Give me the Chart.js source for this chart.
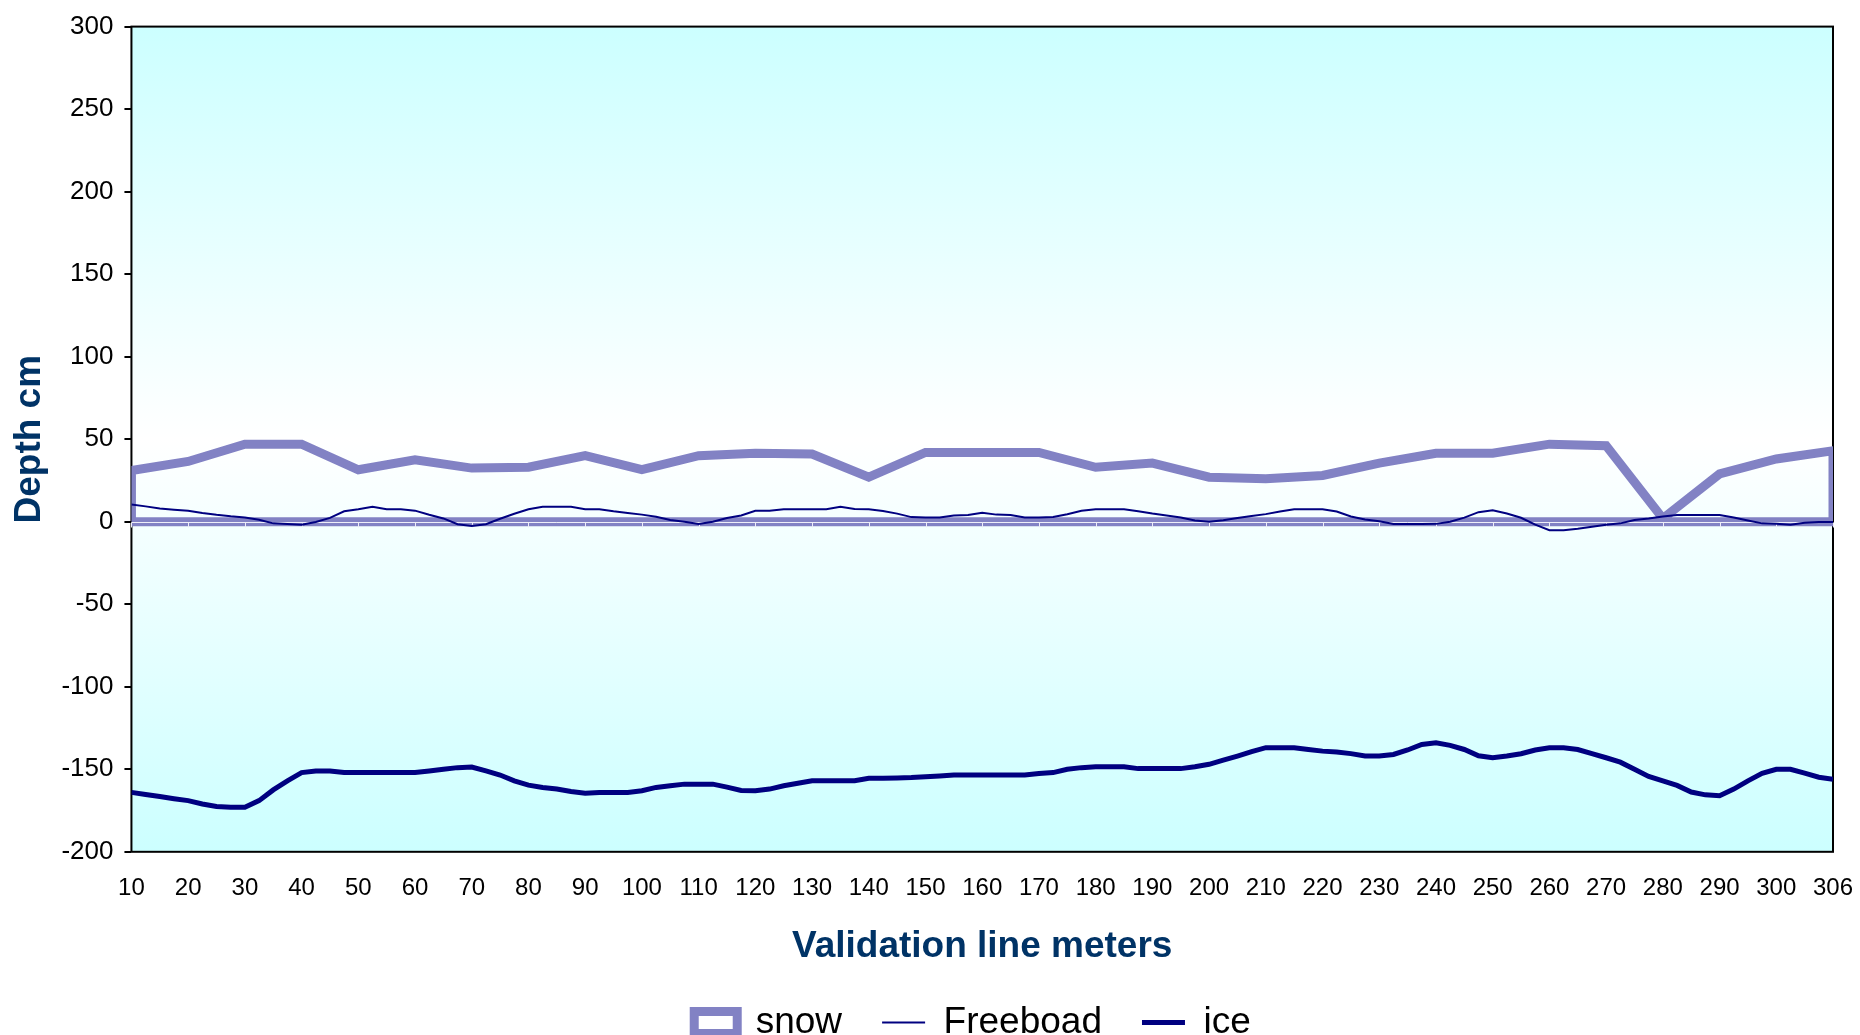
<!DOCTYPE html>
<html>
<head>
<meta charset="utf-8">
<title>Depth along validation line</title>
<script src="https://cdn.jsdelivr.net/npm/chart.js@4.4.1/dist/chart.umd.min.js"></script>
<style>
  html, body { margin: 0; padding: 0; background: #fff; }
  #wrap { width: 1860px; height: 1035px; position: relative; }
</style>
</head>
<body>
<div id="wrap"><canvas id="depthChart"></canvas></div>
<script>
// x axis labels (validation line meters), one per tick
const xTickLabels = ['10', '20', '30', '40', '50', '60', '70', '80', '90', '100',
  '110', '120', '130', '140', '150', '160', '170', '180', '190', '200',
  '210', '220', '230', '240', '250', '260', '270', '280', '290', '300', '306'];

// snow depth (cm) at each labelled tick
const snowDepth = [31, 36.5, 47, 47, 31.5, 37.5, 32.5, 33, 40, 31.5,
  40, 41.5, 41, 27, 42, 42, 42, 33, 35.5, 27,
  26, 28, 35.5, 41.5, 41.5, 47, 46, 2, 29, 38, 43];

// freeboard and ice are sampled four times per tick interval
const samplesPerTick = 4;

const freeboard = [
  10.5, 9.3, 8.0, 7.3,   6.7, 5.3, 4.2, 3.3,   2.6, 1.2, -1.0, -1.4,
  -1.8, -0.2, 2.3, 6.3,  7.5, 9.0, 7.5, 7.5,   6.7, 4.2, 2.0, -1.5,
  -2.6, -1.5, 1.8, 4.8,  7.5, 9.1, 9.1, 9.1,   7.6, 7.5, 6.3, 5.3,
  4.3, 3.0, 1.0, 0,      -1.3, 0, 2.2, 3.8,    6.6, 6.7, 7.5, 7.5,
  7.5, 7.5, 9.0, 7.7,    7.5, 6.5, 4.9, 2.8,   2.6, 2.6, 3.8, 4.1,
  5.5, 4.3, 4.0, 2.6,    2.6, 2.8, 4.5, 6.7,   7.5, 7.5, 7.5, 6.4,
  5.0, 3.8, 2.6, 0.7,    0, 0.9, 2.2, 3.5,     4.6, 6.2, 7.5, 7.5,
  7.5, 6.2, 3.2, 1.4,    0.3, -1.4, -1.4, -1.4, -1.3, 0, 2.5, 5.8,
  7.0, 5.0, 2.4, -1.8,   -5.1, -5.1, -4.2, -3.0, -1.8, -1.0, 1.0, 2.0,
  3.2, 4.1, 4.1, 4.1,    4.1, 2.6, 0.8, -1.0,  -1.3, -1.8, -0.6, -0.2,
  -0.2
];

const iceDepth = [
  -164, -165.3, -166.5, -167.8,  -169, -171, -172.5, -173,     -173, -169, -162.5, -157,
  -152, -151, -151, -152,        -152, -152, -152, -152,       -152, -151, -150, -149,
  -148.6, -151, -153.5, -157,    -159.6, -161, -162, -163.5,   -164.5, -164, -164, -164,
  -163, -161, -160, -159,        -159, -159, -160.8, -162.8,   -163, -162, -160, -158.5,
  -157, -157, -157, -157,        -155.5, -155.5, -155.3, -155, -154.5, -154, -153.5, -153.5,
  -153.5, -153.5, -153.5, -153.5, -152.5, -152, -150, -149,    -148.5, -148.5, -148.5, -149.6,
  -149.6, -149.6, -149.6, -148.5, -147, -144.5, -142, -139.3,  -136.9, -136.9, -136.9, -138,
  -139, -139.5, -140.5, -142,    -142, -141, -138.3, -135,     -134, -135.5, -138, -141.8,
  -143, -142, -140.6, -138.3,    -137, -137, -138, -140.5,     -143, -145.7, -150, -154.3,
  -157, -159.8, -163.8, -165.5,  -166, -162, -157, -152.5,     -150, -150, -152.3, -154.8,
  -156
];

const yTicks = { min: -200, max: 300, step: 50 };

const snowColor = '#8282c4';
const navy = '#000080';
const titleColor = '#003366';

Chart.defaults.font.family = '"Liberation Sans", Arial, sans-serif';
Chart.defaults.color = '#000';

// snow is drawn as a closed outline down to the zero line, like the area series
const lastTick = xTickLabels.length - 1;
const snowPoints = [{ x: 0, y: 0 }]
  .concat(snowDepth.map((v, i) => ({ x: i, y: v })))
  .concat([{ x: lastTick, y: 0 }, { x: 0, y: 0 }]);
const freeboardPoints = freeboard.map((v, i) => ({ x: i / samplesPerTick, y: v }));
const icePoints = iceDepth.map((v, i) => ({ x: i / samplesPerTick, y: v }));

// gradient plot background + black frame
const plotFrame = {
  id: 'plotFrame',
  beforeDatasetsDraw(chart) {
    const { ctx, chartArea: a } = chart;
    const g = ctx.createLinearGradient(0, a.top, 0, a.bottom);
    g.addColorStop(0, '#ccffff');
    g.addColorStop(0.5, '#ffffff');
    g.addColorStop(1, '#ccffff');
    ctx.save();
    ctx.fillStyle = g;
    ctx.fillRect(a.left, a.top, a.right - a.left, a.bottom - a.top);
    ctx.strokeStyle = '#000';
    ctx.lineWidth = 2;
    ctx.strokeRect(a.left, a.top, a.right - a.left, a.bottom - a.top);
    ctx.restore();
  },
  // light category axis at zero, drawn over the snow base line
  afterDatasetDraw(chart, args) {
    if (args.index !== 0) return;
    const { ctx, chartArea: a, scales } = chart;
    const y0 = Math.round(scales.y.getPixelForValue(0)) + 0.5;
    ctx.save();
    ctx.strokeStyle = '#eeeef8';
    ctx.lineWidth = 1;
    ctx.beginPath();
    ctx.moveTo(a.left, y0);
    ctx.lineTo(a.right, y0);
    scales.x.ticks.forEach(t => {
      const x = Math.round(scales.x.getPixelForValue(t.value)) + 0.5;
      ctx.moveTo(x, y0);
      ctx.lineTo(x, y0 + 5);
    });
    ctx.stroke();
    ctx.restore();
  },
  afterLayout(chart) {
    // legend row sits right of the canvas centre in the original
    chart.legend.left += 52;
    chart.legend.right += 52;
  }
};

new Chart(document.getElementById('depthChart'), {
  type: 'line',
  data: {
    datasets: [
      {
        label: 'snow',
        data: snowPoints,
        borderColor: snowColor,
        backgroundColor: '#ffffff',
        borderWidth: 9,
        borderJoinStyle: 'miter',
        fill: false,
        pointRadius: 0,
        pointStyle: 'rect',
        order: 1
      },
      {
        label: 'Freeboad',
        data: freeboardPoints,
        borderColor: navy,
        backgroundColor: navy,
        borderWidth: 2,
        pointRadius: 0,
        pointStyle: 'line',
        order: 0
      },
      {
        label: 'ice',
        data: icePoints,
        borderColor: navy,
        backgroundColor: navy,
        borderWidth: 5,
        pointRadius: 0,
        pointStyle: 'line',
        order: 0
      }
    ]
  },
  options: {
    responsive: true,
    maintainAspectRatio: false,
    animation: false,
    layout: { padding: { left: 8, right: 27, top: 21, bottom: -16 } },
    scales: {
      x: {
        type: 'linear',
        min: 0,
        max: lastTick,
        grid: { display: true, drawOnChartArea: false, drawTicks: true, tickLength: 17, color: 'rgba(0,0,0,0)' },
        border: { display: false },
        ticks: {
          stepSize: 1,
          autoSkip: false,
          maxRotation: 0,
          padding: 5,
          font: { size: 24 },
          callback: (value) => xTickLabels[value]
        },
        title: {
          display: true,
          text: 'Validation line meters',
          color: titleColor,
          font: { size: 37, weight: 'bold' },
          padding: { top: 17, bottom: -5 }
        }
      },
      y: {
        min: yTicks.min,
        max: yTicks.max,
        grid: { drawOnChartArea: false, drawTicks: true, tickLength: 7, color: '#000', lineWidth: 2 },
        border: { display: false },
        ticks: { stepSize: yTicks.step, padding: 11, font: { size: 26 } },
        title: {
          display: true,
          text: 'Depth cm',
          color: titleColor,
          font: { size: 37, weight: 'bold' },
          padding: { top: 0, bottom: -2 }
        }
      }
    },
    plugins: {
      legend: {
        position: 'bottom',
        labels: {
          usePointStyle: true,
          pointStyleWidth: 43,
          boxHeight: 22,
          padding: 40,
          color: '#000',
          font: { size: 37 },
          sort: (a, b) => a.datasetIndex - b.datasetIndex
        }
      },
      tooltip: { enabled: false }
    }
  },
  plugins: [plotFrame]
});
</script>
</body>
</html>
